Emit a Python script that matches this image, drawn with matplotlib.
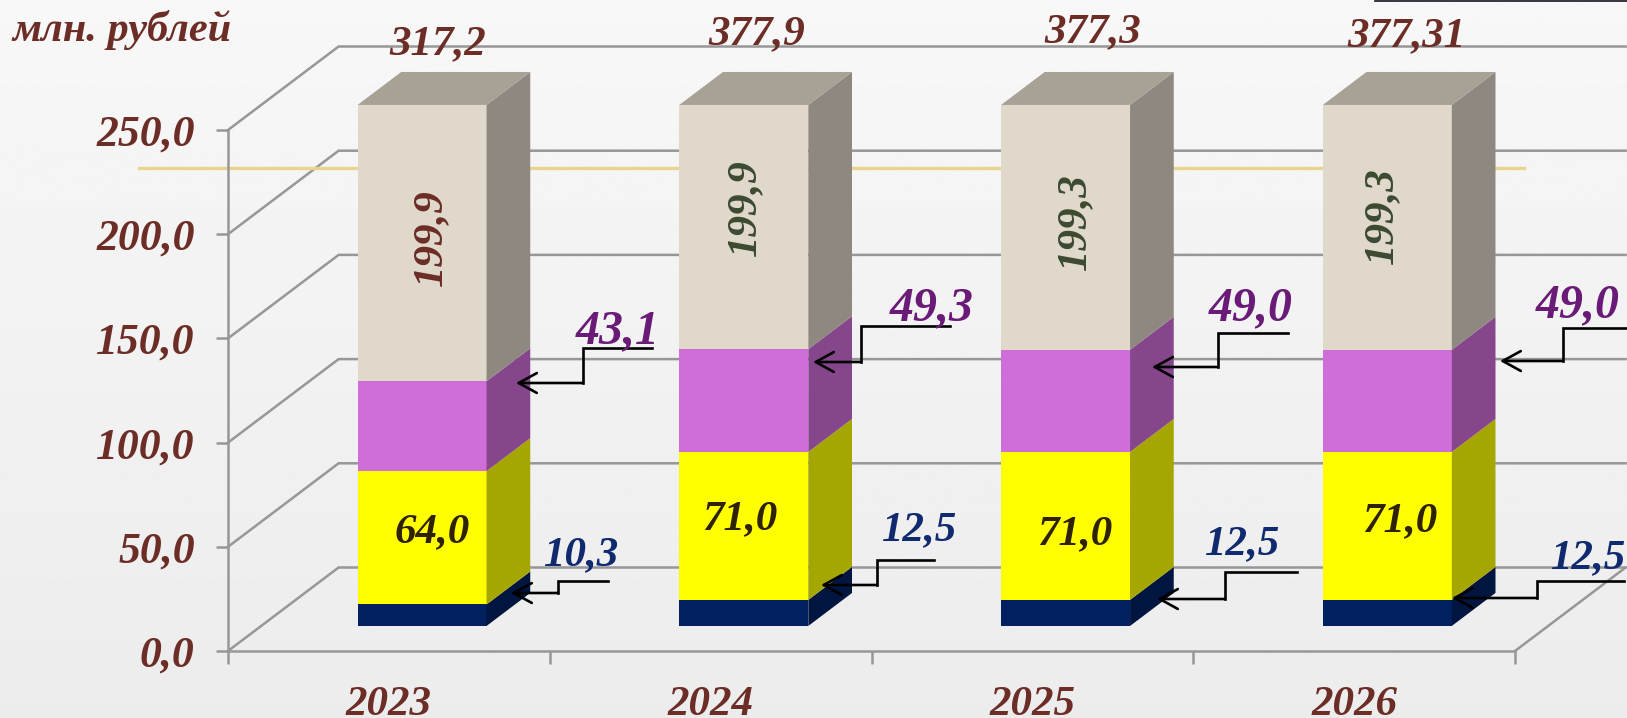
import numpy as np
import matplotlib
matplotlib.use('Agg')
import matplotlib.pyplot as plt
from matplotlib.lines import Line2D
from matplotlib.patches import Polygon

W, H = 1627, 718

years = ['2023', '2024', '2025', '2026']
navy = [10.3, 12.5, 12.5, 12.5]
yellow = [64.0, 71.0, 71.0, 71.0]
pink = [43.1, 49.3, 49.0, 49.0]
beige = [199.9, 199.9, 199.3, 199.3]
totals = ['317,2', '377,9', '377,3', '377,31']
y_ticks = [0, 50, 100, 150, 200, 250]

brown = '#6B2D26'
grid_c = '#979797'
serif = dict(family='Liberation Serif', weight='bold', style='italic')

# front, side colours of each layer
layers = [
    (navy, '#002060', '#001540', 'navy'),
    (yellow, '#FFFF00', '#A6A600', 'yellow'),
    (pink, '#CF6DD9', '#86468C', 'pink'),
    (beige, '#DFD8CB', '#8F8880', 'beige'),
]
top_c = '#A8A196'

# depth of the 3d box, in x categories and y units
depth_x = 110.6 / 321.75
depth_y = 83.5 / 2.084
bar_w = 129 / 321.75
bar_d0, bar_d1 = 0.30, 0.695


def fx(x):
    return x / W


def fy(y):
    return 1 - y / H


fig = plt.figure(figsize=(W / 100, H / 100), dpi=100)

# background
bg = fig.add_axes([0, 0, 1, 1], zorder=0)
bg.imshow(np.linspace(0.97, 0.925, 256).reshape(-1, 1), cmap='gray', vmin=0, vmax=1,
          aspect='auto', extent=(0, 1, 0, 1))
bg.axis('off')

ax = fig.add_axes([fx(228), fy(651), (1515 - 228) / W, (651 - 130) / H], zorder=1)
ax.patch.set_alpha(0)
ax.set_xlim(0, 4)
ax.set_ylim(0, 250)


def proj(x, v, d):
    return (x + d * depth_x, v + d * depth_y)


# walls and grid
for v in y_ticks:
    p0 = proj(0, v, 0)
    p1 = proj(0, v, 1)
    p2 = proj(4, v, 1)
    ax.plot([p0[0], p1[0], p2[0]], [p0[1], p1[1], p2[1]], color=grid_c, lw=1.8,
            clip_on=False, zorder=1, solid_joinstyle='miter')
pr0 = proj(4, 0, 0)
pr1 = proj(4, 0, 1)
ax.plot([pr0[0], pr1[0]], [pr0[1], pr1[1]], color=grid_c, lw=1.8, clip_on=False, zorder=1)

# tan line
ax.plot([-0.2767, 4.0295], [231.8, 231.8], color='#E9D48F', lw=2.4, clip_on=False, zorder=2)

# bars
for i in range(len(years)):
    x0 = i + 0.5 + bar_d0 * depth_x - bar_w / 2
    x0b = x0 - bar_d0 * depth_x
    base = 0
    for vals, front, side, name in layers:
        v0 = min(base, 250)
        v1 = min(base + vals[i], 250)
        base += vals[i]
        pts = [proj(x0b, v0, bar_d0), proj(x0b + bar_w, v0, bar_d0),
               proj(x0b + bar_w, v1, bar_d0), proj(x0b, v1, bar_d0)]
        ax.add_patch(Polygon(pts, fc=front, ec='none', clip_on=False, zorder=5))
        pts = [proj(x0b + bar_w, v0, bar_d0), proj(x0b + bar_w, v0, bar_d1),
               proj(x0b + bar_w, v1, bar_d1), proj(x0b + bar_w, v1, bar_d0)]
        ax.add_patch(Polygon(pts, fc=side, ec='none', clip_on=False, zorder=5))
    pts = [proj(x0b, v1, bar_d0), proj(x0b + bar_w, v1, bar_d0),
           proj(x0b + bar_w, v1, bar_d1), proj(x0b, v1, bar_d1)]
    ax.add_patch(Polygon(pts, fc=top_c, ec='none', clip_on=False, zorder=5))

# axes
for s in ['top', 'right']:
    ax.spines[s].set_visible(False)
for s in ['left', 'bottom']:
    ax.spines[s].set_color(grid_c)
    ax.spines[s].set_linewidth(1.8)
    ax.spines[s].set_zorder(3)
ax.set_yticks(y_ticks)
ax.set_yticklabels([f'{v:.1f}'.replace('.', ',') for v in y_ticks], color=brown, fontsize=31.5, **serif)
ax.tick_params(axis='y', length=9, width=1.8, color=grid_c, pad=15)
ax.set_xticks(range(5))
ax.set_xticklabels([])
ax.tick_params(axis='x', which='major', length=9.5, width=1.8, color=grid_c)
ax.set_xticks(np.arange(4) + 0.5, minor=True)
ax.set_xticklabels(years, minor=True, color=brown, fontsize=31, **serif)
ax.tick_params(axis='x', which='minor', length=0, pad=25)

# top layer for labels and arrows
top = fig.add_axes([0, 0, 1, 1], zorder=2)
top.axis('off')
top.set_xlim(0, W)
top.set_ylim(H, 0)


def label(txt, x, y, color, rot=0, size=31):
    top.text(x, y, txt, color=color, fontsize=size, rotation=rot, ha='center', va='center',
             clip_on=False, **serif)


def fmt(v):
    return f'{v:.1f}'.replace('.', ',')


label('млн. рублей', 122, 30, brown, size=30.5)

total_pos = [(438, 44), (757, 34), (1093, 32), (1406, 36)]
for t, (x, y) in zip(totals, total_pos):
    label(t, x, y, brown)

beige_pos = [(431, 238), (745, 208), (1075, 222), (1382, 216)]
beige_col = [brown, '#3D4A32', '#3D4A32', '#3D4A32']
for v, (x, y), c in zip(beige, beige_pos, beige_col):
    label(fmt(v), x, y, c, rot=90)

yellow_pos = [(432, 532), (740, 519), (1075, 534), (1400, 521)]
for v, (x, y) in zip(yellow, yellow_pos):
    label(fmt(v), x, y, '#2E2200')

pink_pos = [(618, 331), (932, 308), (1251, 308), (1578, 305)]
for v, (x, y) in zip(pink, pink_pos):
    label(fmt(v), x, y, '#6A1B78', size=34.5)

navy_pos = [(582, 555), (920, 530), (1243, 544), (1589, 558)]
for v, (x, y) in zip(navy, navy_pos):
    label(fmt(v), x, y, '#0F2A6E')

# elbow arrows
arrows = [
    [(652, 348), (583, 348), (583, 383), (516, 383)],
    [(608, 581), (558, 581), (558, 593), (511, 593)],
    [(950, 326), (861, 326), (861, 362), (813, 362)],
    [(934, 560), (877, 560), (877, 585), (821, 585)],
    [(1288, 333), (1218, 333), (1218, 367), (1152, 367)],
    [(1297, 572), (1225, 572), (1225, 599), (1157, 599)],
    [(1627, 328), (1563, 328), (1563, 361), (1500, 361)],
    [(1624, 581), (1537, 581), (1537, 598), (1452, 598)],
]
for a in arrows:
    xs = [p[0] for p in a]
    ys = [p[1] for p in a]
    top.plot(xs[:-1], ys[:-1], color='black', lw=1.9, solid_joinstyle='miter', clip_on=False)
    top.annotate('', xy=a[-1], xytext=a[-2],
                 arrowprops=dict(arrowstyle='->,head_length=1,head_width=0.55', mutation_scale=13,
                                 color='black', lw=1.9, shrinkA=0, shrinkB=0))

# dark strip at the top right corner
fig.add_artist(Line2D([fx(1375), 1], [fy(0.8), fy(0.8)], color='#15151f', lw=1.2))

plt.savefig('out.png', dpi=100)
